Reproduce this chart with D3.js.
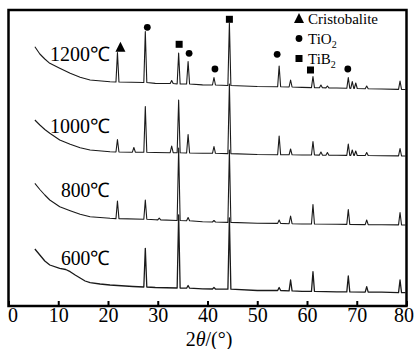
<!DOCTYPE html>
<html>
<head>
<meta charset="utf-8">
<script src="https://cdn.jsdelivr.net/npm/d3@7"></script>
<style>
  html, body { margin: 0; padding: 0; background: #fff; }
  svg { display: block; }
</style>
</head>
<body>
<div id="chart"></div>
<script>
// XRD patterns, intensity in arbitrary units (stacked, offsets included)
const xTicks = [0, 10, 20, 30, 40, 50, 60, 70, 80];

// baseline points: [2theta, intensity]
const base1200 = [[5.3, 259.3], [6.3, 252], [7.3, 247], [8.3, 242.7], [10.3, 237.7], [12.4, 232.7], [14.4, 228.7], [16.4, 226], [20.4, 224.3], [29.5, 222.6], [39, 221.1], [50, 219.5], [59, 218.6], [66, 218], [75, 217], [79.8, 216.5]];
const base1000 = [[5.3, 186], [6.3, 181], [7.3, 176.5], [8.3, 172.7], [10.3, 166], [12.4, 161.7], [14.4, 158.3], [16.4, 156], [20.4, 154.3], [29.5, 153.5], [39, 152.8], [50, 151.5], [59, 151], [66, 150.7], [75, 150.3], [79.8, 150]];
const base800 = [[5.3, 122.7], [6.3, 116.5], [7.3, 111], [8.3, 106], [10.3, 99.3], [12.4, 95.3], [14.4, 91.7], [16.4, 89.3], [20.4, 87.7], [29.5, 86.2], [39, 84.2], [50, 82.7], [59, 82], [66, 81.7], [75, 81.3], [79.8, 81]];
const base600 = [[5.3, 57], [6.3, 51], [7.3, 45], [8.3, 41], [10.3, 37.7], [11.5, 36.5], [12.4, 34.3], [13.4, 31], [14.4, 28], [15.4, 25], [16.4, 23.3], [18.4, 22], [20.4, 21], [25, 19.5], [29.5, 18.5], [39, 17.2], [50, 15.5], [59, 14.6], [66, 14.2], [75, 13.8], [79.8, 13.3]];

// peaks: [2theta, foot intensity, top intensity]
const peaks1200 = [[21.9, 224, 253.5], [27.5, 223.5, 274.5], [32.8, 222.5, 225.5], [34.2, 222, 253], [36.1, 222, 244.5], [41.3, 221, 228.5], [44.4, 220.5, 283], [54.4, 219.3, 240], [56.7, 219, 226], [61.2, 218.4, 229.5], [62.8, 218.3, 221], [64.1, 218.1, 220], [68.3, 217.7, 228.5], [69.1, 217.6, 224.5], [69.8, 217.5, 223], [72.0, 217.3, 220], [78.7, 216.6, 225]];
const peaks1000 = [[21.9, 154, 166.5], [25.2, 153.8, 158.5], [27.5, 153.7, 199.5], [32.8, 153.3, 160], [34.2, 153.2, 206], [36.1, 153, 171.5], [41.3, 152.7, 159.5], [44.4, 152.4, 222], [54.4, 151.3, 170], [56.7, 151.2, 157], [61.2, 151, 164.5], [62.8, 150.9, 154], [64.1, 150.8, 153.5], [68.3, 150.6, 162], [69.1, 150.6, 156], [69.8, 150.5, 155], [72.0, 150.5, 153.5], [78.7, 150.1, 157.5]];
const peaks800 = [[21.9, 87.4, 105], [27.5, 86.8, 106], [30.3, 86.1, 87.8], [34.2, 85.5, 158], [36.1, 85.2, 88.5], [41.3, 84, 85.5], [44.4, 83.6, 156], [54.4, 82.6, 86], [56.7, 82.3, 90], [61.2, 82, 101.5], [68.3, 81.6, 96.5], [72.0, 81.4, 86], [78.7, 81.1, 93.5]];
const peaks600 = [[27.5, 19, 57.7], [34.2, 18, 91], [36.1, 17.8, 20.5], [41.3, 17, 18.5], [44.4, 16.8, 88], [54.4, 15.5, 18.5], [56.7, 15.2, 26], [61.2, 14.6, 34.3], [68.3, 14.1, 30], [72.0, 13.9, 19.3], [78.7, 13.4, 26]];

const temps = ['1200℃', '1000℃', '800℃', '600℃'];
const labelLevels = [245, 173, 109, 41];   // where each temperature label sits

// phase markers on the 1200 pattern: [phase, 2theta, intensity]
const markers = [['c', 22.5, 258.7], ['t', 27.9, 278.7], ['b', 34.3, 261.7], ['t', 36.3, 252.7], ['t', 41.5, 237], ['b', 44.4, 286.7], ['t', 54.0, 251.7], ['b', 60.7, 236], ['t', 68.2, 237]];
const legendItems = [['c', 'Cristobalite', ''], ['t', 'TiO', '2'], ['b', 'TiB', '2']];

const width = 416, height = 349;
const margin = { top: 10, right: 9.5, bottom: 43, left: 8.5 };
const font = '"Liberation Serif", "Times New Roman", serif';

const svg = d3.select('#chart')
  .append('svg')
  .attr('width', width)
  .attr('height', height);

const x = d3.scaleLinear().domain([0, 80]).range([margin.left, width - margin.right]);
const y = d3.scaleLinear().domain([0, 296]).range([height - margin.bottom, margin.top]);

// build a trace from baseline + peak triangles
function trace(baseline, peaks) {
  const w = 0.3;
  const pts = baseline.slice();
  peaks.forEach(p => {
    pts.push([p[0] - w, p[1]], [p[0], p[2]], [p[0] + w, p[1]]);
  });
  return pts.sort((a, b) => a[0] - b[0]);
}

const series = [
  trace(base1200, peaks1200),
  trace(base1000, peaks1000),
  trace(base800, peaks800),
  trace(base600, peaks600)
];

const line = d3.line()
  .x(d => x(d[0]))
  .y(d => y(d[1]));

svg.append('g')
  .selectAll('path')
  .data(series)
  .enter()
  .append('path')
  .attr('d', line)
  .attr('fill', 'none')
  .attr('stroke', '#1a1a1a')
  .attr('stroke-width', (d, i) => i === 3 ? 1.3 : 1.1)
  .attr('stroke-linejoin', 'round');

// temperature labels
svg.append('g')
  .selectAll('text')
  .data(temps)
  .enter()
  .append('text')
  .attr('x', 110)
  .attr('y', (d, i) => y(labelLevels[i]))
  .attr('text-anchor', 'end')
  .attr('textLength', d => d.length === 5 ? 60 : 49)
  .attr('lengthAdjust', 'spacingAndGlyphs')
  .style('font-family', font)
  .style('font-size', '20px')
  .text(d => d);

// marker shapes
function drawMarker(sel, kind) {
  if (kind === 'c') {
    sel.append('path').attr('d', 'M0,-5.5L5,4.5L-5,4.5Z').attr('fill', '#000');
  } else if (kind === 't') {
    sel.append('circle').attr('r', 3.4).attr('fill', '#000');
  } else {
    sel.append('rect').attr('x', -3.5).attr('y', -3.5).attr('width', 7).attr('height', 7).attr('fill', '#000');
  }
}

svg.append('g')
  .selectAll('g')
  .data(markers)
  .enter()
  .append('g')
  .attr('transform', d => `translate(${x(d[1])},${y(d[2])})`)
  .each(function(d) { drawMarker(d3.select(this), d[0]); });

// legend
const legend = svg.append('g')
  .selectAll('g')
  .data(legendItems)
  .enter()
  .append('g')
  .attr('transform', (d, i) => `translate(299,${18.5 + i * 20})`);

legend.each(function(d) { drawMarker(d3.select(this), d[0]); });

const lt = legend.append('text')
  .attr('x', 9)
  .attr('y', 5)
  .style('font-family', font)
  .style('font-size', '15px')
  .text(d => d[1]);
lt.append('tspan')
  .attr('dy', 4)
  .style('font-size', '10px')
  .text(d => d[2]);

// x axis with inward ticks
const xAxis = svg.append('g')
  .attr('transform', `translate(0,${height - margin.bottom})`)
  .call(d3.axisBottom(x).tickValues(xTicks).tickSizeInner(-5).tickSizeOuter(0).tickPadding(2));

xAxis.select('.domain').remove();
xAxis.selectAll('line').attr('stroke', '#000').attr('stroke-width', 2);
xAxis.selectAll('text')
  .style('font-family', font)
  .style('font-size', '20px')
  .attr('fill', '#000')
  .attr('dx', d => d === 0 ? 4 : d === 80 ? -3 : 0);

// frame
svg.append('rect')
  .attr('x', x(0))
  .attr('y', y(296))
  .attr('width', x(80) - x(0))
  .attr('height', y(0) - y(296))
  .attr('fill', 'none')
  .attr('stroke', '#000')
  .attr('stroke-width', 2.5);

// axis title
const title = svg.append('text')
  .attr('x', 209)
  .attr('y', 346)
  .attr('text-anchor', 'middle')
  .style('font-family', font)
  .style('font-size', '20px');
title.append('tspan').text('2');
title.append('tspan').style('font-style', 'italic').text('θ');
title.append('tspan').text('/(°)');
</script>
</body>
</html>
